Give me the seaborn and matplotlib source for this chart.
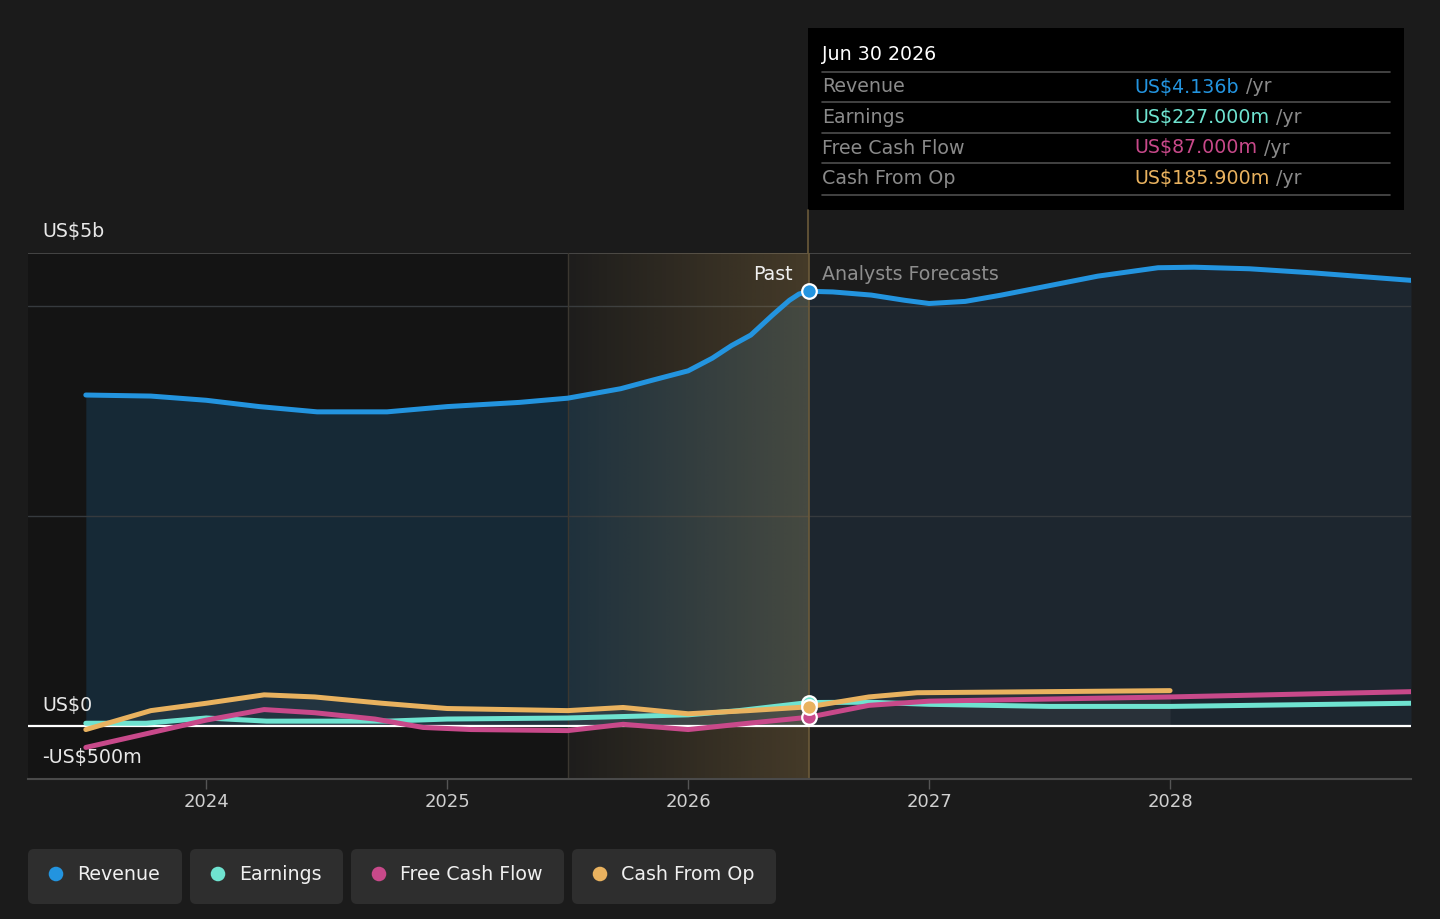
import numpy as np
import pandas as pd
import matplotlib.pyplot as plt
import seaborn as sns
from matplotlib.patches import Rectangle, FancyBboxPatch

# values (US$ billions, x in fractional years)
rev_x = [2023.5, 2023.77, 2024.0, 2024.22, 2024.46, 2024.75, 2025.0, 2025.3, 2025.5, 2025.72,
         2025.85, 2026.0, 2026.1, 2026.18, 2026.26, 2026.35, 2026.42, 2026.46, 2026.5, 2026.6,
         2026.76, 2026.9, 2027.0, 2027.15, 2027.3, 2027.5, 2027.7, 2027.95, 2028.1, 2028.33,
         2028.6, 2029.0]
rev_y = [3.15, 3.14, 3.10, 3.04, 2.99, 2.99, 3.04, 3.08, 3.12, 3.21,
         3.29, 3.38, 3.50, 3.62, 3.72, 3.91, 4.05, 4.11, 4.136, 4.13,
         4.10, 4.05, 4.02, 4.04, 4.10, 4.19, 4.28, 4.36, 4.365, 4.35,
         4.31, 4.24]

earn_x = [2023.5, 2023.75, 2024.0, 2024.25, 2024.75, 2025.0, 2025.5, 2026.0, 2026.21, 2026.5,
          2026.75, 2027.0, 2027.5, 2028.0, 2029.0]
earn_y = [0.03, 0.03, 0.08, 0.05, 0.05, 0.07, 0.08, 0.11, 0.15, 0.227,
          0.23, 0.21, 0.19, 0.19, 0.22]

fcf_x = [2023.5, 2023.77, 2024.0, 2024.24, 2024.45, 2024.7, 2024.9, 2025.1, 2025.5, 2025.73,
         2026.0, 2026.25, 2026.5, 2026.75, 2027.0, 2027.5, 2028.0, 2029.0]
fcf_y = [-0.20, -0.06, 0.06, 0.16, 0.13, 0.07, -0.01, -0.03, -0.04, 0.02,
         -0.03, 0.03, 0.087, 0.20, 0.24, 0.26, 0.28, 0.33]

cfo_x = [2023.5, 2023.77, 2024.0, 2024.24, 2024.45, 2024.73, 2025.0, 2025.5, 2025.73, 2026.0,
         2026.25, 2026.5, 2026.75, 2026.95, 2028.0]
cfo_y = [-0.03, 0.15, 0.22, 0.30, 0.28, 0.22, 0.17, 0.15, 0.18, 0.12,
         0.15, 0.186, 0.28, 0.32, 0.34]

series_names = ["Revenue", "Earnings", "Free Cash Flow", "Cash From Op"]
series_colors = ["#2394df", "#6fe3d0", "#c8498a", "#e9b25f"]
tooltip_values = ["US$4.136b", "US$227.000m", "US$87.000m", "US$185.900m"]
year_ticks = [2024, 2025, 2026, 2027, 2028]
now_x = 2026.5

BG = "#1b1b1b"
FS = 13.7
sns.set_theme(style="dark", rc={"axes.facecolor": BG, "figure.facecolor": BG})
plt.rcParams["font.family"] = ["DejaVu Sans"]

df = pd.concat([
    pd.DataFrame({"year": rev_x, "value": rev_y, "series": "Revenue"}),
    pd.DataFrame({"year": earn_x, "value": earn_y, "series": "Earnings"}),
    pd.DataFrame({"year": fcf_x, "value": fcf_y, "series": "Free Cash Flow"}),
    pd.DataFrame({"year": cfo_x, "value": cfo_y, "series": "Cash From Op"}),
])

fig = plt.figure(figsize=(14.4, 9.19), dpi=100)
ax = fig.add_axes([28 / 1440, 1 - 779 / 919, 1383 / 1440, 526 / 919])
x0, x1 = 2023.26, 2029.0

# past (dark) region + highlighted last year
ax.axvspan(x0, 2025.5, color="#141414", zorder=0, lw=0)
rx = np.array(rev_x)
ry = np.array(rev_y)
ax.fill_between(rx, ry, 0, where=rx <= now_x, color="#2394df", alpha=0.17, lw=0, zorder=1)
ax.fill_between(rx, ry, 0, where=rx >= now_x, color="#2a6aa8", alpha=0.15, lw=0, zorder=1)
cx = np.array(cfo_x)
ax.fill_between(cx, np.array(cfo_y), 0, color="#9a9a9a", alpha=0.10, lw=0, zorder=1)

ramp = np.linspace(0.0, 1.0, 256)
grad = np.zeros((2, 256, 4))
grad[..., 0] = 190 / 255
grad[..., 1] = 150 / 255
grad[..., 2] = 80 / 255
grad[..., 3] = 0.02 + 0.24 * ramp
ax.imshow(grad, extent=[2025.5, now_x, -0.5, 4.5], aspect="auto", zorder=1.5, interpolation="bilinear")
ax.axvline(2025.5, color="#3b3730", lw=1, zorder=1.6)
ax.axvline(now_x, color="#6b5a3a", lw=1.2, zorder=1.6)

# grid lines
for g in [2, 4]:
    ax.axhline(g, color="#363a3e", lw=1, zorder=1.2)
ax.axhline(4.5, color="#4d4d4d", lw=1.2, zorder=1.2)
ax.axhline(0, color="white", lw=1.6, zorder=2.5)

sns.lineplot(data=df, x="year", y="value", hue="series", hue_order=series_names,
             palette=series_colors, estimator=None, sort=False, lw=3.6,
             legend=False, ax=ax)
for ln in ax.lines:
    if ln.get_xydata().shape[0] > 2:
        ln.set_solid_capstyle("round")
        ln.set_solid_joinstyle("round")
        ln.set_zorder(3)

# markers at the past/forecast boundary
for val, col in [(earn_y[earn_x.index(now_x)], series_colors[1]),
                 (fcf_y[fcf_x.index(now_x)], series_colors[2]),
                 (cfo_y[cfo_x.index(now_x)], series_colors[3]),
                 (rev_y[rev_x.index(now_x)], series_colors[0])]:
    ax.scatter([now_x], [val], s=110, color=col, edgecolor="white", linewidth=1.6, zorder=5)

ax.set_xlim(x0, x1)
ax.set_ylim(-0.5, 4.5)
ax.set_xticks(year_ticks)
ax.set_xticklabels([str(y) for y in year_ticks], color="#d0d0d0", fontsize=13)
ax.tick_params(axis="x", length=7, width=1, color="#555555", pad=3, bottom=True)
ax.set_yticks([])
ax.set_xlabel("")
ax.set_ylabel("")
for s in ["top", "left", "right"]:
    ax.spines[s].set_visible(False)
ax.spines["bottom"].set_color("#4a4a4a")
ax.spines["bottom"].set_linewidth(1.5)
ax.grid(False)

# overlay in pixel coordinates for annotations, tooltip and legend
ov = fig.add_axes([0, 0, 1, 1], facecolor="none")
ov.set_xlim(0, 1440)
ov.set_ylim(919, 0)
ov.axis("off")

ov.text(42, 231, "US$5b", color="#e8e8e8", fontsize=FS, va="center")
ov.text(42, 705, "US$0", color="#e8e8e8", fontsize=FS, va="center")
ov.text(42, 758, "-US$500m", color="#e8e8e8", fontsize=FS, va="center")
ov.text(793, 274, "Past", color="#f0f0f0", fontsize=FS, va="center", ha="right")
ov.text(822, 274, "Analysts Forecasts", color="#8e8e8e", fontsize=FS, va="center")

# link line from axes top up to tooltip
ov.plot([808, 808], [210, 253], color="#6b5a3a", lw=1.2)

# tooltip
ov.add_patch(Rectangle((808, 28), 596, 182, facecolor="black", edgecolor="none"))
ov.text(822, 55, "Jun 30 2026", color="white", fontsize=FS, va="center")
for yy in [72, 102, 133, 163, 195]:
    ov.plot([822, 1390], [yy, yy], color="#4d4d4d", lw=1.2)
fig.canvas.draw()
renderer = fig.canvas.get_renderer()
for i, (name, val, col) in enumerate(zip(series_names, tooltip_values, series_colors)):
    yy = 87 + i * 30.5
    ov.text(822, yy, name, color="#8a8a8a", fontsize=FS, va="center")
    t = ov.text(1134, yy, val, color=col, fontsize=FS, va="center")
    bb = t.get_window_extent(renderer=renderer)
    ov.text(bb.x1 + 7, yy, "/yr", color="#8a8a8a", fontsize=FS, va="center")

# legend chips
chips = [(28, 154), (190, 153), (351, 213), (572, 204)]
for (cx0, w), name, col in zip(chips, series_names, series_colors):
    ov.add_patch(FancyBboxPatch((cx0, 849), w, 55, boxstyle="round,pad=0,rounding_size=6",
                                facecolor="#2e2e2e", edgecolor="none"))
    ov.scatter([cx0 + 28], [874], s=110, color=col, edgecolor="none")
    ov.text(cx0 + 49, 874, name, color="#f0f0f0", fontsize=FS, va="center")

fig.savefig("out.png", dpi=100, facecolor=BG)
